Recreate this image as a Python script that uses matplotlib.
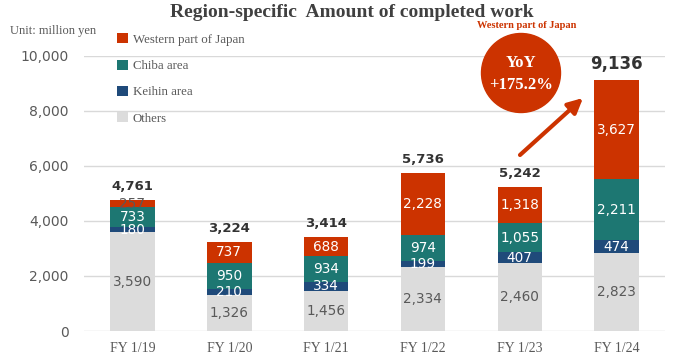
import matplotlib
matplotlib.use("Agg")
import matplotlib.pyplot as plt
from matplotlib.patches import Ellipse
import numpy as np

# data (million yen)
years = ["FY 1/19", "FY 1/20", "FY 1/21", "FY 1/22", "FY 1/23", "FY 1/24"]
others = [3590, 1326, 1456, 2334, 2460, 2823]
keihin = [180, 210, 334, 199, 407, 474]
chiba = [733, 950, 934, 974, 1055, 2211]
western = [257, 737, 688, 2228, 1318, 3627]
totals = [4761, 3224, 3414, 5736, 5242, 9136]

c_west = "#CC3300"
c_chiba = "#1D7772"
c_keihin = "#1F4A7A"
c_others = "#DCDCDC"
serif = "Liberation Serif"

fig = plt.figure(figsize=(6.96, 3.61), dpi=100)
ax = fig.add_axes([0.1207, 0.0831, 0.8348, 0.762])

x = np.arange(len(years))
w = 0.46
series = [
    (others, c_others, "Others", "#595959"),
    (keihin, c_keihin, "Keihin area", "white"),
    (chiba, c_chiba, "Chiba area", "white"),
    (western, c_west, "Western part of Japan", "white"),
]
bottom = np.zeros(len(years))
bars = {}
for vals, col, name, tcol in series:
    v = np.array(vals, dtype=float)
    bars[name] = ax.bar(x, v, w, bottom=bottom, color=col, label=name, zorder=2)
    for i in range(len(v)):
        c = tcol
        if name == "Western part of Japan" and i == 0:
            c = "#595959"
        ax.text(x[i], bottom[i] + v[i] / 2, f"{int(v[i]):,}", ha="center",
                va="center", fontsize=9.8, color=c, zorder=3)
    bottom += v

for i, t in enumerate(totals):
    ax.annotate(f"{t:,}", (x[i], bottom[i]), xytext=(0, 5),
                textcoords="offset points", ha="center", va="bottom",
                fontsize=12 if i == len(totals) - 1 else 9.5,
                fontweight="bold", color="#333333")

ax.set_xlim(-0.5, len(years) - 0.5)
ax.set_ylim(0, 10000)
ax.set_yticks(range(0, 10001, 2000))
ax.set_yticklabels([f"{v:,}" for v in range(0, 10001, 2000)], fontsize=10,
                   color="#595959")
ax.set_xticks(x)
ax.set_xticklabels(years, fontsize=10, color="#595959", family=serif)
ax.tick_params(length=0)
ax.tick_params(axis="y", pad=11)
ax.tick_params(axis="x", pad=8)
ax.grid(axis="y", color="#D9D9D9", lw=1, zorder=0)
for s in ax.spines.values():
    s.set_visible(False)
ax.set_axisbelow(True)

# legend, top entry first
h = [bars["Western part of Japan"], bars["Chiba area"], bars["Keihin area"], bars["Others"]]
leg = fig.legend(h, [b.get_label() for b in h], loc="upper left",
                 bbox_to_anchor=(0.152, 0.94), frameon=False,
                 prop={"family": serif, "size": 9.3}, handlelength=0.8,
                 handleheight=0.8, handletextpad=0.4, labelspacing=1.08)
for t in leg.get_texts():
    t.set_color("#595959")

fig.text(0.505, 0.965, "Region-specific  Amount of completed work", ha="center",
         va="center", fontsize=14, fontweight="bold", family=serif, color="#404040")
fig.text(0.014, 0.915, "Unit: million yen", ha="left", va="center", fontsize=9,
         family=serif, color="#595959")

# YoY callout
fig.patches.append(Ellipse((521 / 696, 1 - 73 / 361), 79 / 696, 79 / 361,
                           transform=fig.transFigure, color=c_west, zorder=5))
fig.text(521 / 696, 1 - 74 / 361, "YoY\n+175.2%", ha="center", va="center",
         fontsize=12, fontweight="bold", family=serif, color="white",
         linespacing=1.45, zorder=6)
fig.text(527 / 696, 1 - 26 / 361, "Western part of Japan", ha="center", va="center",
         fontsize=7.5, fontweight="bold", family=serif, color=c_west)
fig.add_artist(plt.Annotation("", xy=(583 / 696, 1 - 98 / 361),
                              xytext=(520 / 696, 1 - 155 / 361),
                              xycoords="figure fraction", textcoords="figure fraction",
                              arrowprops=dict(arrowstyle="-|>", color=c_west, lw=3,
                                              mutation_scale=22, shrinkA=0, shrinkB=0)))

fig.savefig("out.png", dpi=100)
